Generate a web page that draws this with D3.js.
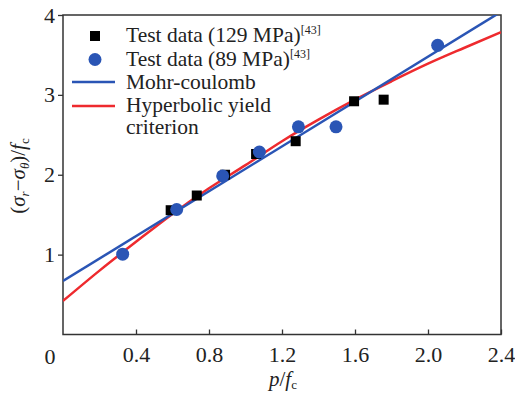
<!DOCTYPE html>
<html>
<head>
<meta charset="utf-8">
<script src="https://cdn.jsdelivr.net/npm/d3@7"></script>
<style>
  html, body { margin: 0; padding: 0; background: #fff; }
  svg, svg text { font-family: "Liberation Serif", "DejaVu Serif", serif; }
  svg text { fill: #222; }
</style>
</head>
<body>
<svg id="chart" width="515" height="396" font-family="Liberation Serif, DejaVu Serif, serif"></svg>
<script>
// ---- data ----
const sq129X = [0.59, 0.733, 0.888, 1.058, 1.275, 1.595, 1.757];
const sq129Y = [1.556, 1.74, 2.0, 2.26, 2.42, 2.92, 2.94];
const c89X = [0.327, 0.623, 0.875, 1.076, 1.29, 1.496, 2.053];
const c89Y = [1.006, 1.565, 1.985, 2.285, 2.6, 2.6, 3.62];
const mohrX = [0, 2.4];
const mohrY = [0.67, 4.04];
const hypX = [0, 0.2, 0.4, 0.6, 0.8, 1.0, 1.2, 1.4, 1.6, 1.8, 2.0, 2.2, 2.4];
const hypY = [0.42, 0.80, 1.16, 1.51, 1.83, 2.12, 2.42, 2.69, 2.94, 3.17, 3.39, 3.59, 3.785];
const xTicks = [0.4, 0.8, 1.2, 1.6, 2.0, 2.4];
const xTickLabels = ["0.4", "0.8", "1.2", "1.6", "2.0", "2.4"];
const yTicks = [1, 2, 3, 4];
const yTickLabels = ["1", "2", "3", "4"];
const legendLabels = ["Test data (129 MPa)", "Test data (89 MPa)", "Mohr-coulomb", "Hyperbolic yield", "criterion"];

// ---- layout ----
const FONT = "Liberation Serif, DejaVu Serif, serif";
const svg = d3.select("#chart");
const L = 63, R = 501, T = 15, B = 334.5;
const x = d3.scaleLinear().domain([0, 2.4]).range([L, R]);
const y = d3.scaleLinear().domain([0, 4]).range([B, T]);
const BLUE = "#2a55b5", RED = "#ee2a2e", AX = "#333";

svg.append("defs").append("clipPath").attr("id", "clip")
  .append("rect").attr("x", L).attr("y", T).attr("width", R - L).attr("height", B - T);

// axes
const xAxis = svg.append("g").attr("transform", `translate(0,${B})`)
  .call(d3.axisBottom(x).tickValues(xTicks).tickSize(-5).tickFormat((d, i) => xTickLabels[i]).tickPadding(12));
xAxis.attr("font-family", FONT);
xAxis.select(".domain").remove();
xAxis.selectAll("line").attr("stroke", AX).attr("stroke-width", 1.3);
xAxis.selectAll("text").attr("font-size", 22).attr("font-family", FONT).attr("fill", "#222");

const yAxis = svg.append("g").attr("transform", `translate(${L},0)`)
  .call(d3.axisLeft(y).tickValues(yTicks).tickSize(5).tickFormat((d, i) => yTickLabels[i]).tickPadding(3));
yAxis.attr("font-family", FONT);
yAxis.select(".domain").remove();
yAxis.selectAll("line").attr("stroke", AX).attr("stroke-width", 1.3);
yAxis.selectAll("text").attr("font-size", 22).attr("font-family", FONT).attr("fill", "#222");

// origin label
svg.append("text").attr("x", 50).attr("y", 364).attr("text-anchor", "middle")
  .attr("font-family", FONT).attr("font-size", 22).text("0");

// frame
svg.append("rect").attr("x", L).attr("y", T).attr("width", R - L).attr("height", B - T)
  .attr("fill", "none").attr("stroke", AX).attr("stroke-width", 1.5);

// lines
const plot = svg.append("g").attr("clip-path", "url(#clip)");
const lineGen = d3.line().x(d => x(d[0])).y(d => y(d[1])).curve(d3.curveMonotoneX);
plot.append("path").datum(hypX.map((v, i) => [v, hypY[i]]))
  .attr("d", lineGen).attr("fill", "none").attr("stroke", RED).attr("stroke-width", 2.5);
plot.append("path").datum(mohrX.map((v, i) => [v, mohrY[i]]))
  .attr("d", lineGen).attr("fill", "none").attr("stroke", BLUE).attr("stroke-width", 2.5);

// markers
const sqSize = 10;
svg.append("g").selectAll("rect").data(sq129X).join("rect")
  .attr("x", (d) => x(d) - sqSize / 2).attr("y", (d, i) => y(sq129Y[i]) - sqSize / 2)
  .attr("width", sqSize).attr("height", sqSize).attr("fill", "#000");
svg.append("g").selectAll("circle").data(c89X).join("circle")
  .attr("cx", d => x(d)).attr("cy", (d, i) => y(c89Y[i])).attr("r", 6.5).attr("fill", BLUE);

// legend
const lg = svg.append("g").attr("font-family", FONT);
const tx = 126, fs = 21.5;
lg.append("rect").attr("x", 95 - 5).attr("y", 36 - 5).attr("width", 10).attr("height", 10).attr("fill", "#000");
lg.append("circle").attr("cx", 95).attr("cy", 59.5).attr("r", 6.5).attr("fill", BLUE);
lg.append("line").attr("x1", 72).attr("x2", 115).attr("y1", 82).attr("y2", 82).attr("stroke", BLUE).attr("stroke-width", 2.5);
lg.append("line").attr("x1", 72).attr("x2", 115).attr("y1", 106).attr("y2", 106).attr("stroke", RED).attr("stroke-width", 2.5);
const rowsY = [42, 65.5, 88.5, 111.5, 133.5];
legendLabels.forEach((t, i) => {
  const tt = lg.append("text").attr("x", tx).attr("y", rowsY[i]).attr("font-size", fs)
    .attr("font-family", FONT);
  tt.append("tspan").text(t);
  if (i < 2) {
    tt.append("tspan").attr("font-size", 12).attr("dy", -8).text("[43]");
  }
});

// axis titles
const xl = svg.append("text").attr("x", 283).attr("y", 386).attr("text-anchor", "middle")
  .attr("font-family", FONT).attr("font-size", 21);
xl.append("tspan").attr("font-style", "italic").text("p");
xl.append("tspan").text("/");
xl.append("tspan").attr("font-style", "italic").text("f");
xl.append("tspan").attr("font-size", 13).attr("dy", 3).text("c");

const yl = svg.append("text").attr("transform", "translate(25,176) rotate(-90)").attr("text-anchor", "middle")
  .attr("font-family", FONT).attr("font-size", 21);
yl.append("tspan").text("(");
yl.append("tspan").attr("font-style", "italic").text("σ");
yl.append("tspan").attr("font-size", 13).attr("font-style", "italic").attr("dy", 4).text("r");
yl.append("tspan").attr("dy", -4).text("−");
yl.append("tspan").attr("font-style", "italic").text("σ");
yl.append("tspan").attr("font-size", 13).attr("font-style", "italic").attr("dy", 4).text("θ");
yl.append("tspan").attr("dy", -4).text(")/");
yl.append("tspan").attr("font-style", "italic").text("f");
yl.append("tspan").attr("font-size", 13).attr("dy", 4).text("c");
</script>
</body>
</html>
